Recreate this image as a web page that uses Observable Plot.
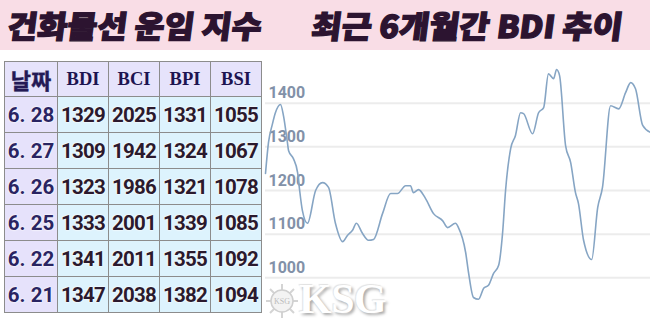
<!DOCTYPE html>
<html><head><meta charset="utf-8">
<script src="https://cdn.jsdelivr.net/npm/d3@7"></script>
<script src="https://cdn.jsdelivr.net/npm/@observablehq/plot@0.6"></script>
<style>
html,body{margin:0;padding:0;background:#fff;}
#root{position:relative;width:650px;height:322px;overflow:hidden;background:#fff;}
#band{position:absolute;left:0;top:0;width:650px;height:50px;background:#f9dde6;}
.title{position:absolute;top:6px;height:38px;line-height:38px;font-family:"Noto Sans CJK KR";font-weight:900;font-size:31px;color:#2c1430;-webkit-text-stroke:1.3px #2c1430;white-space:nowrap;transform-origin:0 50%;}
#tbl{position:absolute;left:4px;top:61px;border-collapse:collapse;table-layout:fixed;}
#tbl td{border:1px solid #8c8c8c;padding:0;text-align:center;overflow:hidden;white-space:nowrap;}
#tbl tr.h td{height:34px;background:#e6e3fb;font-family:"Liberation Serif";font-weight:700;font-size:18.5px;color:#1d1450;}
#tbl tr.h td.k{font-family:"Noto Sans CJK KR";font-size:22px;font-weight:700;color:#231a55;-webkit-text-stroke:0.4px #231a55;}
#tbl tr.r td{height:35px;background:#ddf3fd;font-family:Roboto;font-weight:700;font-size:20.5px;letter-spacing:-0.7px;color:#2b1a2e;text-shadow:0 0 2px #fff,0 0 2px #fff;}
#tbl tr.r td.d{background:#e6e2fb;color:#2a2462;letter-spacing:0;}
#chart{position:absolute;left:265px;top:55px;}
#ksglogo{position:absolute;left:266px;top:283px;}
#ksgtxt{position:absolute;left:299px;top:275.5px;height:46px;line-height:46px;font-family:"Liberation Serif";font-weight:700;font-size:42px;color:#fff;text-shadow:2px 2px 3px #a9a9a9,-1px -1px 1px #e4e4e4;letter-spacing:-0.5px;}
</style></head>
<body><div id="root">
<div id="band"></div>
<div class="title" id="t1" style="left:8px"></div>
<div class="title" id="t2" style="left:312px"></div>
<table id="tbl"></table>
<svg id="ksglogo" width="32" height="36">
<g stroke="#d4d4d4" stroke-width="2" fill="none">
<line x1="16" y1="1" x2="16" y2="35"/><line x1="0" y1="18" x2="32" y2="18"/>
<line x1="4" y1="6" x2="28" y2="30"/><line x1="28" y1="6" x2="4" y2="30"/>
</g>
<circle cx="16" cy="18" r="11" fill="#f3f3f3" stroke="#cfcfcf" stroke-width="1.5"/>
<text x="16" y="21" text-anchor="middle" font-family="Liberation Serif" font-size="8" fill="#bbb">KSG</text>
</svg>
<div id="ksgtxt">KSG</div>
<div id="chart"></div>
</div>
<script>
const title1 = "건화물선 운임 지수";
const title2 = "최근 6개월간 BDI 추이";
const headers = ["날짜", "BDI", "BCI", "BPI", "BSI"];
const dates = ["6. 28", "6. 27", "6. 26", "6. 25", "6. 22", "6. 21"];
const bdiCol = [1329, 1309, 1323, 1333, 1341, 1347];
const bciCol = [2025, 1942, 1986, 2001, 2011, 2038];
const bpiCol = [1331, 1324, 1321, 1339, 1355, 1382];
const bsiCol = [1055, 1067, 1078, 1085, 1092, 1094];

// BDI trend over the last 6 months (trading-day index, value)
const day = [0,1,2.3,3.3,5,6,7.3,7.7,9.3,10.7,11.3,12.3,14,16.7,19,21,23.3,25.7,27.3,29,30.3,32.3,34.3,36,39,41.7,44,46.7,48.3,49.3,51,53.3,56,59,60.7,63.3,64.3,66.7,67.7,69.3,71,72.7,74.3,76,77.7,79,80,81.7,83.3,85,86,89,91,92.7,94.3,96,97,98,100,101.7,103.3,104.3,106,108.7,110.7,112.3,115,117.7,120,121.7,123.3,125.7,128.3];
const bdi = [1239,1310,1352,1378,1397,1371,1310,1291,1273,1241,1205,1154,1125,1200,1218,1207,1125,1083,1097,1109,1125,1102,1086,1088,1147,1193,1193,1211,1211,1195,1202,1182,1147,1131,1115,1125,1115,1058,1010,955,951,976,983,1010,1029,1102,1200,1296,1326,1378,1376,1330,1378,1390,1467,1456,1477,1463,1303,1264,1195,1170,1086,1042,1161,1207,1394,1387,1424,1447,1433,1349,1333];
const yTicks = [1000, 1100, 1200, 1300, 1400];

// titles
function fit(id, text, w) {
  const el = document.getElementById(id);
  el.textContent = text;
  const bw = el.getBoundingClientRect().width;
  el.style.transform = `scaleX(${w / bw}) skewX(-7deg)`;
}
fit("t1", title1, 254);
fit("t2", title2, 311);

// table
const tbl = document.getElementById("tbl");
const cg = document.createElement("colgroup");
[53, 51, 51, 51, 51].forEach(w => { const c = document.createElement("col"); c.style.width = w + "px"; cg.appendChild(c); });
tbl.appendChild(cg);
const hr = document.createElement("tr"); hr.className = "h";
headers.forEach((h, i) => { const td = document.createElement("td"); td.textContent = h; if (i === 0) td.className = "k"; hr.appendChild(td); });
tbl.appendChild(hr);
dates.forEach((d, i) => {
  const tr = document.createElement("tr"); tr.className = "r";
  [d, bdiCol[i], bciCol[i], bpiCol[i], bsiCol[i]].forEach((v, j) => {
    const td = document.createElement("td"); td.textContent = v; if (j === 0) td.className = "d"; tr.appendChild(td);
  });
  tbl.appendChild(tr);
});

// chart
const series = day.map((d, i) => ({day: d, value: bdi[i]}));
const chart = Plot.plot({
  width: 385, height: 267,
  marginLeft: 0, marginRight: 0, marginTop: 4, marginBottom: 1,
  style: {background: "transparent", overflow: "visible"},
  x: {domain: [0, 128.3], axis: null},
  y: {domain: [900, 1500], axis: null},
  marks: [
    Plot.ruleY(yTicks, {stroke: "#ececec", strokeWidth: 2}),
    Plot.text(yTicks, {y: d => d, text: d => String(d), frameAnchor: "left", textAnchor: "start", dx: 3, dy: -10, fill: "#8291a8", fontSize: 16, fontWeight: 700, fontFamily: "Roboto"}),
    Plot.line(series, {x: "day", y: "value", stroke: "#86a5c4", strokeWidth: 1.6, curve: "monotone-x"})
  ]
});
document.getElementById("chart").appendChild(chart);
</script>
</body></html>
